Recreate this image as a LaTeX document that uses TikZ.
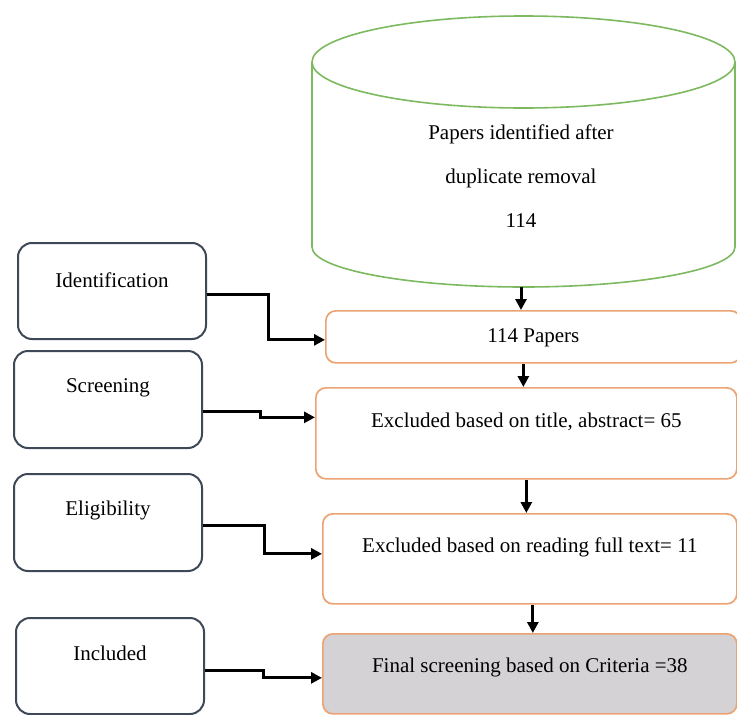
\documentclass[tikz,border=0pt]{standalone}
\usepackage{fontspec}
\setmainfont{Liberation Serif}
\usetikzlibrary{arrows.meta}
\definecolor{slate}{RGB}{62,72,86}
\definecolor{peach}{RGB}{236,163,115}
\definecolor{leaf}{RGB}{125,185,95}
\definecolor{boxgrey}{RGB}{212,210,212}
\newcommand\lblfont{\fontsize{21}{25}\selectfont}

\begin{document}
\begin{tikzpicture}[x=1pt,y=-1pt,
  stage/.style ={draw=slate, line width=2pt, rounded corners=14pt, fill=white,
                 inner sep=0pt, minimum width=188pt, anchor=north west, font=\lblfont},
  flow/.style  ={draw=peach, line width=1.7pt, rounded corners=10pt, fill=white,
                 inner sep=0pt, anchor=north west, font=\lblfont},
  final/.style ={flow, fill=boxgrey},
  db/.style    ={draw=leaf, line width=1.6pt},
  arr/.style   ={line width=3pt, -{Triangle[length=11pt,width=11pt]}}]

  \useasboundingbox (0,0) rectangle (737,715);

  % ---------------- database cylinder ----------------
  \draw[db, fill=white] (312,62) -- (312,247)
     arc[start angle=180, end angle=360, x radius=211.5pt, y radius=40pt] -- (735,62);
  \draw[db] (523.5,62) ellipse[x radius=211.5pt, y radius=46pt];
  \node[font=\fontsize{21}{44}\selectfont, align=center] (dbtxt) at (521,176)
     {Papers identified after\\duplicate removal\\114};
  \coordinate (dbbot) at (521,287);

  % ---------------- stage labels (left column) ----------------
  \node[stage, text height=44pt, text depth=52pt] (ident)  at (17,242) {Identification};
  \node[stage, text height=41pt, text depth=56pt] (screen) at (13,350) {Screening};
  \node[stage, text height=41pt, text depth=56pt] (elig)   at (13,473) {Eligibility};
  \node[stage, text height=42pt, text depth=54pt] (incl)   at (15,617) {Included};

  % ---------------- flow boxes (right column) ----------------
  \node[flow, minimum width=415pt, text height=32pt, text depth=20pt] (p114)  at (325,310) {114 Papers};
  \node[flow, minimum width=421pt, text height=40pt, text depth=51pt] (excl1) at (315,387) {Excluded based on title, abstract= 65};
  \node[flow, minimum width=414pt, text height=39pt, text depth=51pt] (excl2) at (322,513) {Excluded based on reading full text= 11};
  \node[final, minimum width=414pt, text height=39pt, text depth=41pt] (final) at (322,633) {Final screening based on Criteria =38};

  % ---------------- downward arrows ----------------
  \draw[arr] (dbbot) -- (dbbot |- p114.north);
  \draw[arr] ([xshift=-10pt]p114.south) -- ([xshift=-10pt]p114.south |- excl1.north);
  \draw[arr] (excl1.south) -- (excl1.south |- excl2.north);
  \draw[arr] ([xshift=3pt]excl2.south) -- ([xshift=3pt]excl2.south |- final.north);

  % ---------------- stage -> box elbows ----------------
  \draw[arr] ([yshift=-3pt]ident.east)   -- ++(61,0) |- ([yshift=-3pt]p114.west);
  \draw[arr] ([yshift=-12pt]screen.east) -- ++(57,0) |- ([yshift=16pt]excl1.west);
  \draw[arr] ([yshift=-3pt]elig.east)    -- ++(61,0) |- ([yshift=5pt]excl2.west);
  \draw[arr] ([yshift=-4pt]incl.east)    -- ++(58,0) |- ([yshift=-4pt]final.west);
\end{tikzpicture}
\end{document}
